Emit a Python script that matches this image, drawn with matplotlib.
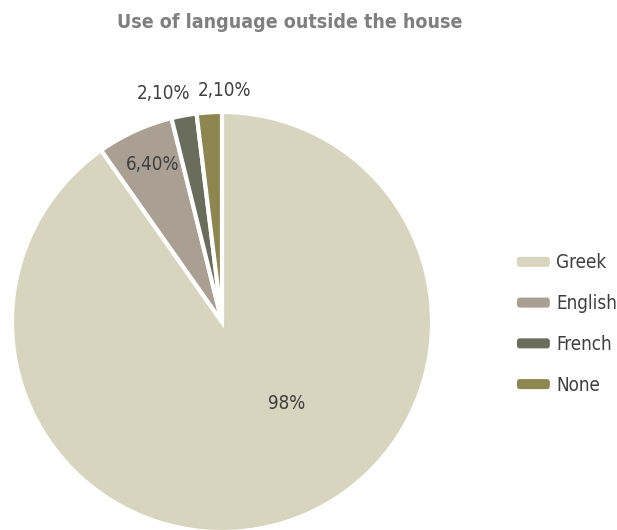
import matplotlib
matplotlib.use("Agg")
import matplotlib.pyplot as plt
from matplotlib.patches import FancyBboxPatch, Wedge
from matplotlib.legend_handler import HandlerPatch

# ---------------------------------------------------------------------------
# data
# ---------------------------------------------------------------------------
categories = ["Greek", "English", "French", "None"]
values = [98, 6.4, 2.1, 2.1]
value_labels = ["98%", "6,40%", "2,10%", "2,10%"]
colors = ["#d7d5bd", "#aa9f93", "#6a6d5c", "#8d8651"]

# label positions (pie data units, radius = 1)
label_xy = [(0.31, -0.39), (-0.33, 0.75), (-0.28, 1.09), (0.01, 1.10)]

plt.rcParams["font.family"] = ["DejaVu Sans"]
plt.rcParams["font.stretch"] = "condensed"

fig = plt.figure(figsize=(6.17, 5.30), dpi=100)
W, H = 617, 530
cx, cy, r = 222, 322, 210
ax = fig.add_axes([(cx - r) / W, (H - cy - r) / H, 2 * r / W, 2 * r / H])

wedges, _ = ax.pie(
    values,
    colors=colors,
    startangle=90,
    counterclock=False,
    radius=1,
    wedgeprops=dict(edgecolor="white", linewidth=3),
)
ax.set_xlim(-1.0, 1.0)
ax.set_ylim(-1.0, 1.0)
ax.set_aspect("auto")
ax.axis("off")

for (x, y), txt in zip(label_xy, value_labels):
    ax.text(x, y, txt, ha="center", va="center", fontsize=13.5,
            color="#3f3f3f", fontstretch="condensed", clip_on=False)

fig.text(290 / W, 1 - 23 / H, "Use of language outside the house",
         ha="center", va="center", fontsize=14, fontweight="bold",
         fontstretch="condensed", color="#7f7f7f")


class RoundHandler(HandlerPatch):
    def create_artists(self, legend, orig_handle, xdescent, ydescent,
                       width, height, fontsize, trans):
        p = FancyBboxPatch((-xdescent, -ydescent + height * 0.15), width,
                           height * 0.7, boxstyle="round,pad=0,rounding_size=2",
                           facecolor=orig_handle.get_facecolor(),
                           edgecolor="none", transform=trans)
        return [p]


leg = fig.legend(
    wedges, categories,
    loc="center left",
    bbox_to_anchor=(517 / W, 1 - 324 / H),
    frameon=False,
    borderpad=0,
    borderaxespad=0,
    prop=dict(size=13.5, stretch="condensed"),
    labelcolor="#3f3f3f",
    handlelength=1.75,
    handleheight=0.8,
    handletextpad=0.35,
    labelspacing=1.16,
    handler_map={Wedge: RoundHandler()},
)

fig.savefig("out.png", dpi=100)
